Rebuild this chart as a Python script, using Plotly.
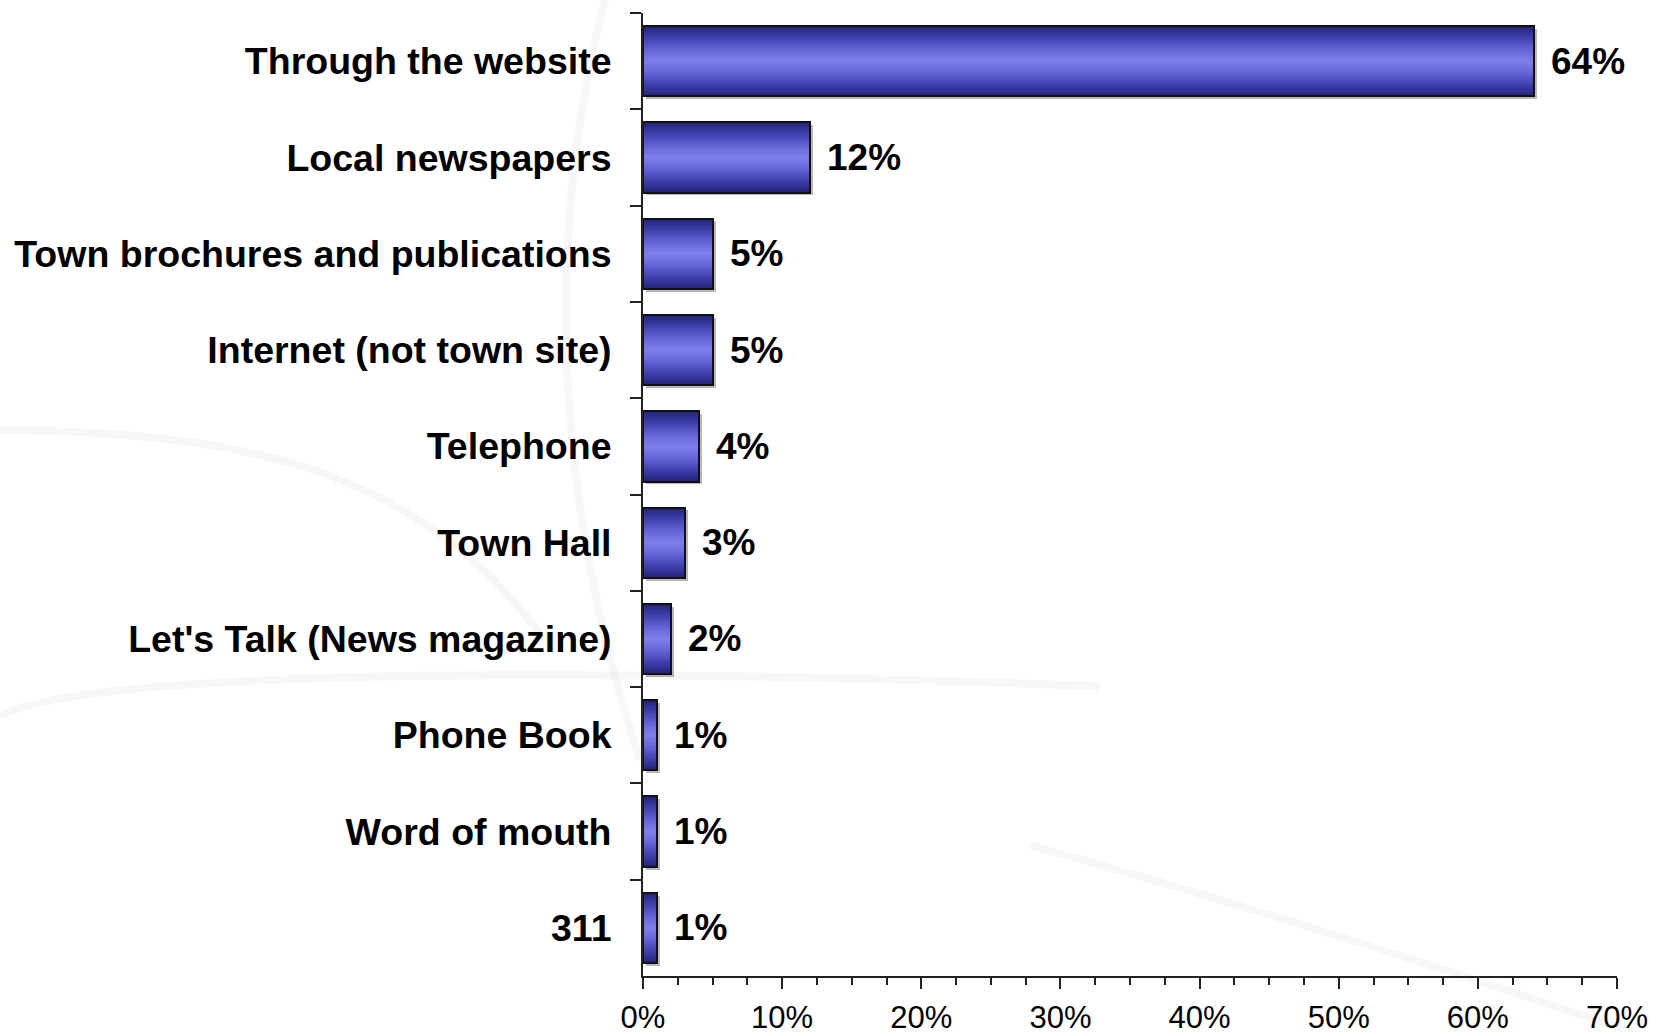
import plotly.graph_objects as go

# Survey results: how residents get town information
categories = [
    "Through the website",
    "Local newspapers",
    "Town brochures and publications",
    "Internet (not town site)",
    "Telephone",
    "Town Hall",
    "Let's Talk (News magazine)",
    "Phone Book",
    "Word of mouth",
    "311",
]
percentages = [64, 12, 5, 5, 4, 3, 2, 1, 1, 1]
x_tick_values = [0, 10, 20, 30, 40, 50, 60, 70]
x_tick_labels = ["0%", "10%", "20%", "30%", "40%", "50%", "60%", "70%"]

W, H = 1654, 1032
M_L, M_R, M_T, M_B = 643, 37, 13, 56
BAR_W = 0.73
FONT = "Liberation Sans, Arial, sans-serif"

fig = go.Figure()

# soft drop shadow behind each bar
fig.add_trace(go.Bar(
    y=categories, x=percentages, base=0.22, orientation="h",
    width=BAR_W, offset=-BAR_W / 2 + 0.03,
    marker=dict(color="rgba(0,0,0,0.28)", line=dict(width=0)),
    hoverinfo="skip", showlegend=False,
))

# vertical gradient built from stacked, progressively narrower bars
stops = [(0.0, (130, 130, 236)), (0.35, (100, 100, 214)),
         (0.7, (62, 62, 172)), (1.0, (36, 36, 124))]


def shade(r):
    for (r0, c0), (r1, c1) in zip(stops[:-1], stops[1:]):
        if r0 <= r <= r1:
            t = (r - r0) / (r1 - r0)
            return "rgb(%d,%d,%d)" % tuple(round(a + (b - a) * t) for a, b in zip(c0, c1))
    return "rgb(%d,%d,%d)" % stops[-1][1]


N = 22
for k in range(N):
    frac = 1 - k / N
    fig.add_trace(go.Bar(
        y=categories, x=percentages, orientation="h",
        width=BAR_W * frac,
        marker=dict(color=shade(frac), line=dict(width=0)),
        hoverinfo="skip", showlegend=False,
    ))

# bar outlines
fig.add_trace(go.Bar(
    y=categories, x=percentages, orientation="h", width=BAR_W,
    marker=dict(color="rgba(0,0,0,0)", line=dict(color="#111111", width=2)),
    hovertemplate="%{y}: %{x}%<extra></extra>", showlegend=False,
))

# value labels at the end of each bar (y given as category index)
annotations = [
    dict(x=v, y=i, xref="x", yref="y", text=f"{v}%", showarrow=False,
         xanchor="left", yanchor="middle", xshift=15,
         font=dict(family=FONT, size=37, color="black", weight="bold"))
    for i, v in enumerate(percentages)
]


def px(x, y):
    # page pixels -> paper coordinates
    return ((x - M_L) / (W - M_L - M_R), (H - M_B - y) / (H - M_T - M_B))


def path(cmd_pts):
    out = []
    for cmd, pts in cmd_pts:
        out.append(cmd + " " + " ".join("%.4f,%.4f" % px(*p) for p in pts))
    return " ".join(out)


# faint decorative swooshes in the background
swooshes = [
    [("M", [(0, 430)]), ("C", [(250, 432), (420, 470), (545, 640)])],
    [("M", [(0, 716)]), ("C", [(90, 668), (600, 668), (1100, 686)])],
    [("M", [(1030, 845)]), ("Q", [(1320, 925), (1654, 1040)])],
    [("M", [(605, 0)]), ("C", [(548, 220), (548, 480), (640, 760)])],
]
shapes = [
    dict(type="path", path=path(s), xref="paper", yref="paper",
         line=dict(color="rgba(0,0,0,0.03)", width=8), layer="below")
    for s in swooshes
]

fig.update_layout(
    width=W, height=H,
    margin=dict(l=M_L, r=M_R, t=M_T, b=M_B, pad=0, autoexpand=False),
    paper_bgcolor="white", plot_bgcolor="rgba(0,0,0,0)",
    barmode="overlay", bargap=0,
    showlegend=False,
    annotations=annotations,
    shapes=shapes,
    xaxis=dict(
        type="linear", automargin=False,
        range=[0, 70], tickmode="array",
        tickvals=x_tick_values, ticktext=x_tick_labels,
        showgrid=False, zeroline=False,
        showline=True, linecolor="#222222", linewidth=2,
        ticks="outside", ticklen=11, tickwidth=1.5, tickcolor="#222222",
        minor=dict(dtick=2.5, tick0=0, ticks="outside", ticklen=7, tickwidth=1.5,
                   tickcolor="#222222", showgrid=False),
        tickfont=dict(family=FONT, size=31, color="black"),
        ticklabelstandoff=2,
        fixedrange=True,
    ),
    yaxis=dict(
        type="category", automargin=False,
        categoryorder="array", categoryarray=categories,
        range=[len(categories) - 0.5, -0.5],
        showgrid=False, zeroline=False,
        showline=True, linecolor="#222222", linewidth=2,
        ticks="outside", ticklen=11, tickwidth=1.5, tickcolor="#222222",
        tickson="boundaries",
        tickfont=dict(family=FONT, size=37.5, color="black", weight="bold"),
        ticklabelstandoff=22,
        fixedrange=True,
    ),
)

fig.write_html("out.html", config={"displayModeBar": False})
